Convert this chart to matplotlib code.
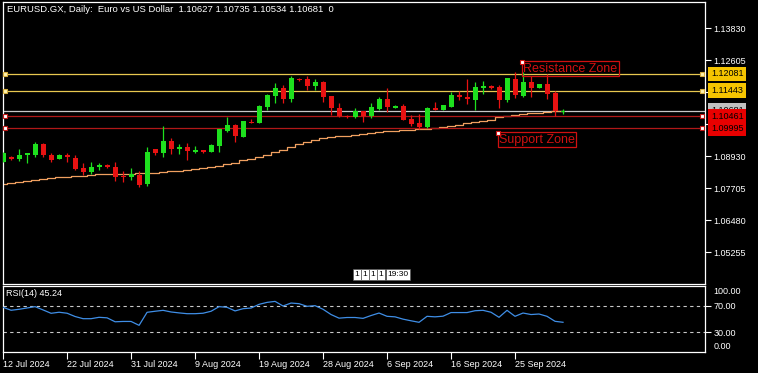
import matplotlib
matplotlib.use('Agg')
import matplotlib.pyplot as plt
import numpy as np

plt.rcParams['font.family'] = ['Liberation Sans', 'DejaVu Sans']

# EURUSD daily candles, 12 Jul 2024 -> 30 Sep 2024
opens = [1.0872, 1.0891, 1.0882, 1.0897, 1.0898, 1.0940, 1.0899, 1.0882, 1.0899, 1.0887,
         1.0848, 1.0833, 1.0851, 1.0858, 1.0853, 1.0819, 1.0812, 1.0821, 1.0786, 1.0920,
         1.0907, 1.0950, 1.0922, 1.0928, 1.0910, 1.0917, 1.0910, 1.0933, 1.0990, 1.1013,
         1.0968, 1.1023, 1.1022, 1.1083, 1.1125, 1.1154, 1.1113, 1.1190, 1.1189, 1.1163,
         1.1177, 1.1124, 1.1078, 1.1047, 1.1044, 1.1066, 1.1046, 1.1074, 1.1113, 1.1079,
         1.1085, 1.1036, 1.1020, 1.1005, 1.1078, 1.1070, 1.1082, 1.1129, 1.1121, 1.1108,
         1.1154, 1.1162, 1.1158, 1.1108, 1.1189, 1.1124, 1.1177, 1.1156, 1.1170, 1.1135,
         1.10627]
highs = [1.0908, 1.0895, 1.0921, 1.0907, 1.0948, 1.0943, 1.0904, 1.0903, 1.0904, 1.0898,
         1.0868, 1.0871, 1.0868, 1.0862, 1.0871, 1.0838, 1.0848, 1.0837, 1.0928, 1.0921,
         1.1010, 1.0963, 1.0939, 1.0944, 1.0931, 1.0918, 1.0940, 1.0997, 1.1043, 1.1018,
         1.1028, 1.1035, 1.1089, 1.1131, 1.1172, 1.1166, 1.1200, 1.1193, 1.1200, 1.1189,
         1.1182, 1.1124, 1.1097, 1.1051, 1.1077, 1.1067, 1.1097, 1.1120, 1.1154, 1.1089,
         1.1092, 1.1051, 1.1055, 1.1083, 1.1101, 1.1089, 1.1139, 1.1143, 1.1190, 1.1177,
         1.1181, 1.1166, 1.1166, 1.1193, 1.1217, 1.1217, 1.1200, 1.1170, 1.1208, 1.1143,
         1.10735]
lows = [1.0871, 1.0879, 1.0875, 1.0868, 1.0891, 1.0891, 1.0872, 1.0881, 1.0871, 1.0841,
        1.0821, 1.0825, 1.0841, 1.0849, 1.0797, 1.0796, 1.0801, 1.0776, 1.0780, 1.0898,
        1.0891, 1.0903, 1.0903, 1.0880, 1.0905, 1.0907, 1.0910, 1.0910, 1.0985, 1.0949,
        1.0968, 1.1019, 1.1022, 1.1071, 1.1098, 1.1096, 1.1102, 1.1182, 1.1148, 1.1148,
        1.1102, 1.1051, 1.1042, 1.1040, 1.1038, 1.1025, 1.1038, 1.1070, 1.1064, 1.1079,
        1.1033, 1.1010, 1.0997, 1.1001, 1.1070, 1.1070, 1.1082, 1.1108, 1.1093, 1.1070,
        1.1131, 1.1150, 1.1078, 1.1101, 1.1117, 1.1120, 1.1120, 1.1154, 1.1112, 1.1047,
        1.10534]
closes = [1.0907, 1.0882, 1.0899, 1.0904, 1.0940, 1.0899, 1.0879, 1.0899, 1.0889, 1.0845,
          1.0833, 1.0852, 1.0858, 1.0851, 1.0815, 1.0814, 1.0825, 1.0784, 1.0910, 1.0904,
          1.0951, 1.0922, 1.0930, 1.0914, 1.0917, 1.0910, 1.0937, 1.0997, 1.1013, 1.0972,
          1.1028, 1.1020, 1.1085, 1.1126, 1.1154, 1.1113, 1.1193, 1.1186, 1.1163, 1.1177,
          1.1121, 1.1078, 1.1046, 1.1042, 1.1067, 1.1046, 1.1082, 1.1113, 1.1082, 1.1085,
          1.1033, 1.1017, 1.1005, 1.1078, 1.1070, 1.1089, 1.1128, 1.1120, 1.1112, 1.1158,
          1.1162, 1.1154, 1.1108, 1.1193, 1.1128, 1.1177, 1.1154, 1.1170, 1.1131, 1.1066,
          1.10681]

# orange moving average
ma = [1.07867, 1.07905, 1.07943, 1.07982, 1.08020, 1.08058, 1.08078, 1.08116, 1.08146, 1.08173,
      1.08188, 1.08211, 1.08231, 1.08238, 1.08250, 1.08257, 1.08265, 1.08273, 1.08276, 1.08303,
      1.08326, 1.08353, 1.08380, 1.08404, 1.08430, 1.08461, 1.08518, 1.08556, 1.08614, 1.08671,
      1.08767, 1.08843, 1.08901, 1.08977, 1.09092, 1.09169, 1.09284, 1.09399, 1.09494, 1.09571,
      1.09629, 1.09667, 1.09694, 1.09724, 1.09744, 1.09770, 1.09801, 1.09858, 1.09885, 1.09908,
      1.09924, 1.09943, 1.09962, 1.09973, 1.10012, 1.10050, 1.10088, 1.10134, 1.10184, 1.10230,
      1.10280, 1.10337, 1.10414, 1.10460, 1.10498, 1.10536, 1.10575, 1.10605, 1.10632, 1.10655,
      1.10674]

# RSI(14)
rsi = [68, 63.5, 65, 67, 69, 64, 58.9, 60.5, 59, 54,
       50.7, 50.7, 52.8, 52, 46, 46.5, 46.5, 40.6, 60.4, 62,
       63.4, 60.9, 59.5, 58.3, 58.3, 59, 62, 69, 68, 62.5,
       65.9, 66.9, 72.5, 75.5, 77, 70, 74.5, 73.5, 69.5, 70.5,
       65, 57, 51.5, 52.5, 52.5, 51.2, 55.5, 59.3, 54.3, 53.5,
       50, 47.5, 45.2, 54.3, 53.5, 54.5, 60, 60, 60, 62.8,
       63.4, 60.5, 52.8, 63.4, 54.3, 59.3, 57, 57.8, 54.3, 46.7,
       45.24]

date_labels = ['12 Jul 2024', '22 Jul 2024', '31 Jul 2024', '9 Aug 2024', '19 Aug 2024',
               '28 Aug 2024', '6 Sep 2024', '16 Sep 2024', '25 Sep 2024']
price_ticks = [1.13830, 1.12605, 1.11380, 1.10155, 1.08930, 1.07705, 1.06480, 1.05255]

resistance_levels = [1.12081, 1.11443]
support_levels = [1.10461, 1.09995]
last_price = 1.10681

BG = 'black'
FG = 'white'
BULL = '#1ee01e'
BEAR = '#e81212'
W, H = 758, 373
FS = 6.5


def px_rect(x0, y0, x1, y1):
    # pixel box (top-left origin) -> figure fraction rect
    return [x0 / W, 1 - y1 / H, (x1 - x0) / W, (y1 - y0) / H]


fig = plt.figure(figsize=(W / 100, H / 100), dpi=100, facecolor=BG)
ax = fig.add_axes(px_rect(2.7, 2, 705, 284), facecolor=BG)
ax_rsi = fig.add_axes(px_rect(2.7, 286, 705, 351.7), facecolor=BG, sharex=ax)

n = len(closes)
x = np.arange(n)
o, h, l, c = map(np.array, (opens, highs, lows, closes))
up = c >= o

# candles: wicks then bodies
for i in range(n):
    col = BULL if up[i] else BEAR
    ax.vlines(x[i], l[i], h[i], color=col, lw=0.9, zorder=4)
body_lo = np.minimum(o, c)
body_h = np.maximum(np.abs(c - o), 0.00012)
ax.bar(x, body_h, bottom=body_lo, width=0.62, color=np.where(up, BULL, BEAR),
       edgecolor='none', zorder=5)

# moving average (sits under the level lines)
ax.plot(x, ma, color='#f0a060', lw=0.9, drawstyle='steps-mid', zorder=2)

# horizontal levels
for lv in resistance_levels:
    ax.axhline(lv, color='#e8c850', lw=0.9, zorder=3)
    for xm in (0.25, 87.4):
        ax.plot(xm, lv, marker='s', ms=3.5, mfc='#fff3b0', mec='#d8b040', mew=0.8,
                zorder=6, clip_on=False)
for lv in support_levels:
    ax.axhline(lv, color='#b01818', lw=0.9, zorder=3)
    for xm in (0.25, 87.4):
        ax.plot(xm, lv, marker='s', ms=3.5, mfc='white', mec='#c01818', mew=0.8,
                zorder=6, clip_on=False)
ax.axhline(last_price, color='#c8c8c8', lw=0.9, zorder=1)

# zone labels
zone_red = '#d01010'
for txt, bx, by in [('Resistance Zone', 64.9, 1.12539), ('Support Zone', 61.9, 1.09820)]:
    ax.text(bx + 0.1, by - 0.0002, txt, color=zone_red, fontsize=9, ha='left', va='top',
            zorder=7, bbox=dict(boxstyle='square,pad=0.12', fc='none', ec=zone_red, lw=0.9))
    ax.plot(bx, by, marker='s', ms=3.5, mfc='white', mec=zone_red, mew=0.8, zorder=8)

ax.set_xlim(-0.05, 87.75)
ax.set_ylim(1.04037, 1.14837)
ax.yaxis.tick_right()
ax.set_yticks(price_ticks)
ax.set_yticklabels(['%.5f' % p for p in price_ticks])
ax.tick_params(axis='y', colors=FG, labelsize=FS, length=4, width=0.8, pad=2)
ax.tick_params(axis='x', bottom=False, labelbottom=False)
for s in ax.spines.values():
    s.set_color(FG)
    s.set_linewidth(0.9)

# coloured price tags on the right axis
tags = [(last_price, '#c0c0c0'), (resistance_levels[0], '#f5c400'), (resistance_levels[1], '#f5c400'),
        (support_levels[0], '#e80000'), (support_levels[1], '#e80000')]
for k, (lv, fc) in enumerate(tags):
    ax.annotate('%.5f' % lv, xy=(1, lv), xycoords=ax.get_yaxis_transform(), xytext=(6, 0),
                textcoords='offset pixels', ha='left', va='center', fontsize=FS, color='black',
                annotation_clip=False, zorder=10 + k,
                bbox=dict(boxstyle='square,pad=0.3', fc=fc, ec='none'))

# RSI panel
ax_rsi.plot(x, rsi, color='#3f8ee6', lw=0.9, zorder=3)
for lv in (70, 30):
    ax_rsi.axhline(lv, color='#c8c8c8', lw=0.8, ls=(0, (3, 3)), zorder=2)
ax_rsi.set_ylim(0.5, 100.4)
ax_rsi.yaxis.tick_right()
ax_rsi.set_yticks([30, 70])
ax_rsi.set_yticklabels(['30.00', '70.00'])
ax_rsi.tick_params(axis='y', colors=FG, labelsize=FS, length=4, width=0.8, pad=2)
ax_rsi.text(1.012, 0.913, '100.00', transform=ax_rsi.transAxes, color=FG, fontsize=FS,
            ha='left', va='center')
ax_rsi.text(1.012, 0.076, '0.00', transform=ax_rsi.transAxes, color=FG, fontsize=FS,
            ha='left', va='center')
ax_rsi.text(0.004, 0.89, 'RSI(14) %.2f' % rsi[-1], transform=ax_rsi.transAxes, color=FG,
            fontsize=FS, ha='left', va='center')
ax_rsi.set_xticks(np.arange(0, 8 * len(date_labels), 8))
ax_rsi.set_xticklabels(date_labels, ha='left')
ax_rsi.tick_params(axis='x', colors=FG, labelsize=FS, length=5, width=0.8, pad=1)
for s in ax_rsi.spines.values():
    s.set_color(FG)
    s.set_linewidth(0.9)

# header text
fig.text(7 / W, 1 - 10 / H,
         'EURUSD.GX, Daily:  Euro vs US Dollar  1.10627 1.10735 1.10534 1.10681  0',
         color=FG, fontsize=6.8, ha='left', va='center')

# bar countdown tag at bottom of the price panel
for lbl, xp in [('1', 357), ('1', 365), ('1', 373), ('1', 381), ('19:30', 398)]:
    fig.text(xp / W, 1 - 274.5 / H, lbl, color='black', fontsize=6, ha='center', va='center',
             bbox=dict(boxstyle='square,pad=0.2', fc='white', ec='#555555', lw=0.5))

fig.savefig('out.png', dpi=100, facecolor=BG)
